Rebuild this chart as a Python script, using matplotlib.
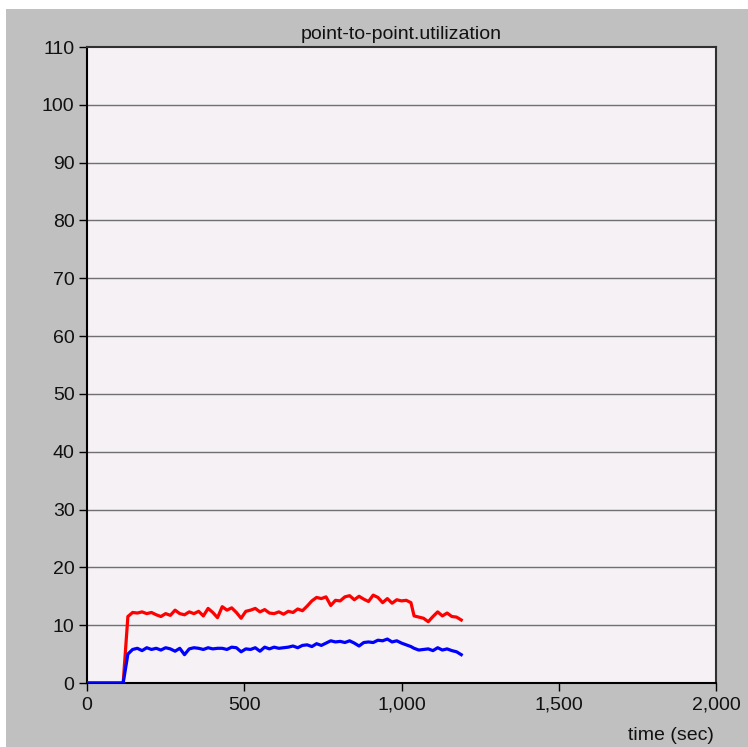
import matplotlib
matplotlib.use("Agg")
import matplotlib.pyplot as plt
from matplotlib.patches import Rectangle
from matplotlib.ticker import FuncFormatter

title = "point-to-point.utilization"
xlabel = "time (sec)"
x_ticks = [0, 500, 1000, 1500, 2000]
y_ticks = [0, 10, 20, 30, 40, 50, 60, 70, 80, 90, 100, 110]

times = [0, 115, 130, 145, 160, 175, 190, 205, 220, 235, 250, 265, 280, 295, 310, 325,
         340, 355, 370, 385, 400, 415, 430, 445, 460, 475, 490, 505, 520, 535, 550,
         565, 580, 595, 610, 625, 640, 655, 670, 685, 700, 715, 730, 745, 760, 775,
         790, 805, 820, 835, 850, 865, 880, 895, 910, 925, 940, 955, 970, 985, 1000,
         1015, 1030, 1040, 1055, 1070, 1085, 1100, 1115, 1130, 1145, 1160, 1175, 1190]

red_util = [0, 0, 11.5, 12.2, 12.1, 12.3, 12.0, 12.2, 11.8, 11.5, 12.0, 11.7, 12.6, 12.0,
            11.8, 12.3, 12.0, 12.4, 11.6, 12.9, 12.2, 11.3, 13.2, 12.6, 13.0, 12.2, 11.2,
            12.4, 12.6, 12.9, 12.3, 12.7, 12.1, 12.0, 12.3, 11.9, 12.4, 12.2, 12.8, 12.5,
            13.3, 14.2, 14.8, 14.6, 14.9, 13.4, 14.3, 14.2, 14.9, 15.1, 14.4, 15.0, 14.5,
            14.1, 15.2, 14.8, 13.9, 14.6, 13.8, 14.4, 14.2, 14.3, 13.9, 11.6, 11.4, 11.2,
            10.6, 11.5, 12.3, 11.6, 12.1, 11.5, 11.4, 10.9]

blue_util = [0, 0, 5.0, 5.8, 6.0, 5.6, 6.1, 5.8, 6.0, 5.7, 6.1, 5.9, 5.5, 6.0, 4.9, 5.9,
             6.1, 6.0, 5.8, 6.1, 5.9, 6.0, 6.0, 5.8, 6.2, 6.1, 5.4, 5.9, 5.8, 6.1, 5.5,
             6.2, 5.9, 6.2, 6.0, 6.1, 6.2, 6.4, 6.1, 6.5, 6.6, 6.3, 6.8, 6.5, 6.9, 7.3,
             7.1, 7.2, 7.0, 7.3, 6.9, 6.4, 7.0, 7.1, 7.0, 7.4, 7.3, 7.6, 7.1, 7.3, 6.9,
             6.6, 6.3, 6.0, 5.7, 5.8, 5.9, 5.6, 6.1, 5.7, 5.9, 5.6, 5.4, 4.9]

plt.rcParams['font.family'] = ['Liberation Sans', 'DejaVu Sans']

W, H = 748, 747
fig = plt.figure(figsize=(W / 100, H / 100), dpi=100, facecolor='white')
fig.patches.append(Rectangle((6 / W, 0), 1, (H - 9) / H, transform=fig.transFigure,
                             facecolor='#c0c0c0', edgecolor='none', zorder=-10))

ax = fig.add_axes([87 / W, 1 - 683 / H, (716 - 87) / W, (683 - 47) / H])
ax.set_facecolor('#f5f1f5')

ax.plot(times, red_util, color='#ff0000', lw=2.3, zorder=3)
ax.plot(times, blue_util, color='#0000ff', lw=2.3, zorder=3)

ax.set_xlim(0, 2000)
ax.set_ylim(0, 110)
ax.set_xticks(x_ticks)
ax.set_yticks(y_ticks)
ax.xaxis.set_major_formatter(FuncFormatter(lambda v, p: f"{int(v):,}"))
ax.tick_params(axis='both', direction='out', length=6, width=1, color='black',
               labelsize=14, labelcolor='#111111')
ax.tick_params(axis='x', pad=4)
ax.tick_params(axis='y', pad=3)
for y in y_ticks[1:-1]:
    ax.axhline(y, color='#707070', lw=1, zorder=1)
for s in ax.spines.values():
    s.set_color('#000000')
    s.set_linewidth(1.5)
ax.spines['top'].set_color('#303030')
ax.spines['right'].set_color('#303030')

ax.set_title(title, fontsize=14, pad=6, color='#111111')
fig.text(714 / W, 1 - 736 / H, xlabel, ha='right', va='center', fontsize=14, color='#111111')

fig.savefig('out.png', dpi=100, facecolor=fig.get_facecolor())
